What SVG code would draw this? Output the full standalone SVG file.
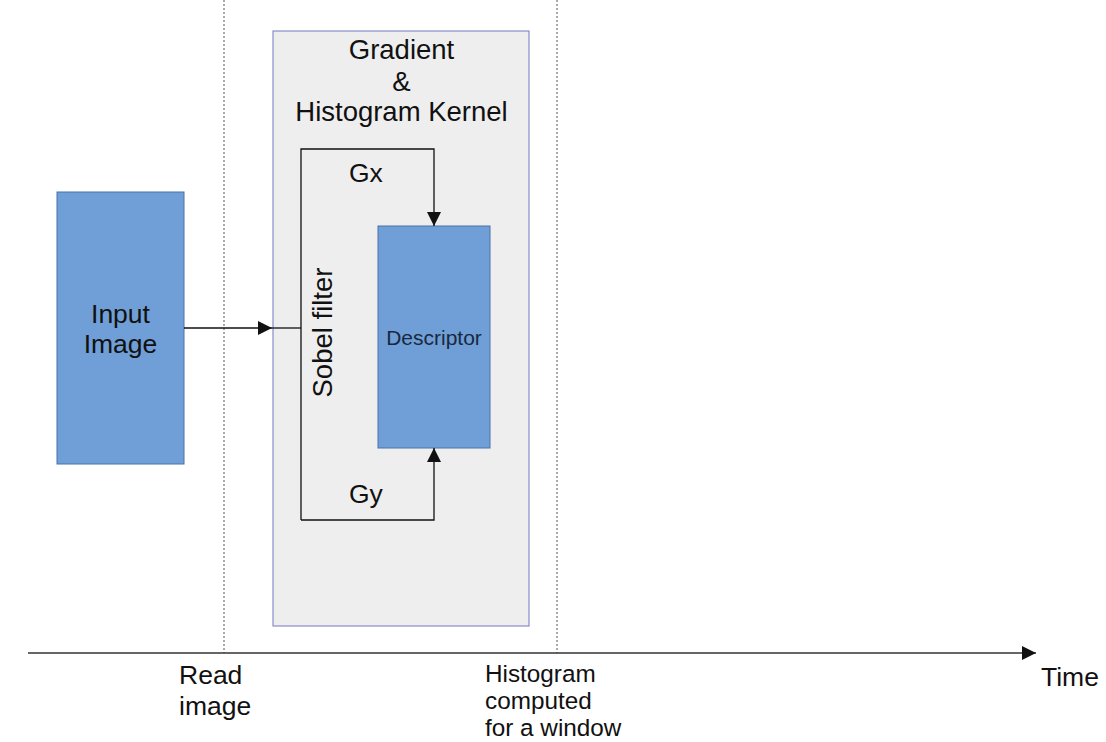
<svg xmlns="http://www.w3.org/2000/svg" width="1106" height="742" viewBox="0 0 1106 742">
  <style>
    text { font-family: "Liberation Sans", Arial, sans-serif; fill: #111; }
    .lbl { font-size: 26.5px; }
    .title { font-size: 27.5px; }
    .small { font-size: 24.3px; }
    .box { fill: #6f9fd6; stroke: #4a72a8; stroke-width: 1; }
    .wire { fill: none; stroke: #111; stroke-width: 1.3; }
    .dot { stroke: #555; stroke-width: 1; stroke-dasharray: 2 2; }
  </style>
  <defs>
    <marker id="arr" viewBox="0 0 10 10" refX="10" refY="5" markerWidth="18" markerHeight="14" markerUnits="userSpaceOnUse" orient="auto">
      <path d="M0,0 L10,5 L0,10 z" fill="#111"/>
    </marker>
  </defs>
  <rect width="1106" height="742" fill="#ffffff"/>

  <!-- timeline markers -->
  <g id="timeline">
    <line class="dot" x1="224" y1="0" x2="224" y2="653"/>
    <line class="dot" x1="557" y1="0" x2="557" y2="653"/>
    <line x1="28" y1="653" x2="1036" y2="653" stroke="#333" stroke-width="1.3" marker-end="url(#arr)"/>
    <text class="lbl" x="179" y="684">Read</text>
    <text class="lbl" x="179" y="715">image</text>
    <text class="small" x="485" y="682">Histogram</text>
    <text class="small" x="485" y="709">computed</text>
    <text class="small" x="485" y="736">for a window</text>
    <text class="lbl" x="1041" y="686">Time</text>
  </g>

  <!-- kernel container -->
  <g id="kernel">
    <rect x="273" y="31" width="256" height="595" fill="#eeeeee" stroke="#7777c4" stroke-width="1"/>
    <text class="title" x="401.5" y="59" text-anchor="middle">Gradient</text>
    <text class="title" x="401.5" y="91" text-anchor="middle">&amp;</text>
    <text class="title" x="401.5" y="121" text-anchor="middle">Histogram Kernel</text>
  </g>

  <g id="input-image">
    <rect class="box" x="57" y="192" width="127" height="272"/>
    <text class="lbl" x="120.5" y="323" text-anchor="middle">Input</text>
    <text class="lbl" x="120.5" y="353" text-anchor="middle">Image</text>
  </g>

  <g id="sobel-filter">
    <text class="title" transform="translate(332,332.5) rotate(-90)" text-anchor="middle">Sobel filter</text>
  </g>

  <g id="descriptor">
    <rect class="box" x="378" y="226" width="112" height="222"/>
    <text x="434" y="345" text-anchor="middle" font-size="21" style="fill:#1a2840">Descriptor</text>
  </g>

  <!-- connectors -->
  <g id="connectors">
    <line class="wire" x1="184" y1="328" x2="272" y2="328" marker-end="url(#arr)"/>
    <line class="wire" x1="272" y1="328" x2="301" y2="328"/>
    <polyline class="wire" points="301,520 301,149 434,149 434,226" marker-end="url(#arr)"/>
    <polyline class="wire" points="301,520 434,520 434,448" marker-end="url(#arr)"/>
    <text class="lbl" x="349" y="182">Gx</text>
    <text class="lbl" x="349" y="503">Gy</text>
  </g>
</svg>
